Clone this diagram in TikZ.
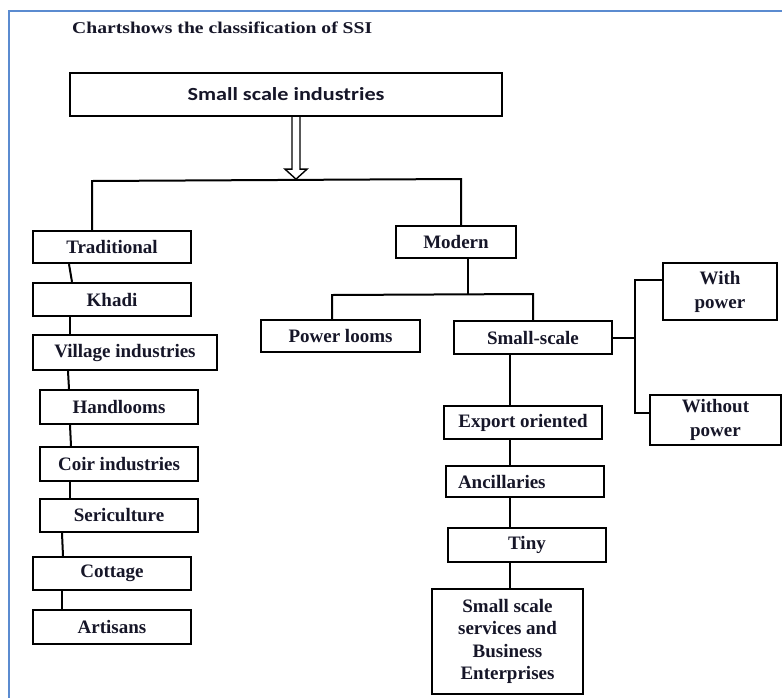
\documentclass[tikz,border=0pt]{standalone}
\usepackage{fontspec}
\setmainfont{Liberation Serif}
\newfontfamily\calib{Carlito}
\usetikzlibrary{calc}
\definecolor{frameblue}{RGB}{91,139,208}
\definecolor{inkc}{RGB}{22,22,40}
\begin{document}
\begin{tikzpicture}[x=1pt,y=-1pt,
  box/.style={draw=black, line width=2.3pt, inner sep=0pt, align=center,
    font=\fontsize{19}{24}\selectfont\bfseries, text=inkc},
  conn/.style={draw=black, line width=2pt},
  titlefont/.style={font=\fontsize{16.5}{20}\selectfont\bfseries, text=inkc}
]
\useasboundingbox (0,0) rectangle (782,697);
\draw[frameblue, line width=2pt] (9,720) -- (9,11) -- (800,11);

% title
\node[titlefont, anchor=base west, inner sep=0pt] (title) at (72,33) {\scalebox{1.19}[1]{Chartshows the classification of SSI}};

% top box
\node[box, minimum width=432, minimum height=43, font={\calib\bfseries\fontsize{18.5}{22}\selectfont}] (ssi) at (286,94.5) {\scalebox{1.2}[1]{Small scale industries}};

% left column
\node[box, minimum width=158, minimum height=32] (trad) at (112,247) {Traditional};
\node[box, minimum width=158, minimum height=33] (khadi) at (112,299.5) {Khadi};
\node[box, minimum width=184, minimum height=35] (village) at (125,352.5) {Village industries};
\node[box, minimum width=158, minimum height=34] (hand) at (119,407) {Handlooms};
\node[box, minimum width=158, minimum height=34] (coir) at (119,464) {Coir industries};
\node[box, minimum width=158, minimum height=33] (seri) at (119,515.5) {Sericulture};
\node[box, minimum width=158, minimum height=33] (cottage) at (112,573.5) {Cottage};
\node[box, minimum width=158, minimum height=34] (artisans) at (112,627) {Artisans};

% modern side
\node[box, minimum width=120, minimum height=32] (modern) at (456,242) {Modern};
\node[box, minimum width=159, minimum height=32] (plooms) at (340.5,336) {Power looms};
\node[box, minimum width=158, minimum height=33] (small) at (533,337.5) {Small-scale};
\node[box, minimum width=114, minimum height=57] (withp) at (720,291.5) {With\\power};
\node[box, minimum width=131, minimum height=50] (withoutp) at (715.5,420) {Without\\power};
\node[box, minimum width=158, minimum height=33] (export) at (523,422.5) {Export oriented};
\node[box, minimum width=158, minimum height=31, text width=134, align=left, inner xsep=12pt] (anc) at (525,481.5) {Ancillaries};
\node[box, minimum width=158, minimum height=34] (tiny) at (527,545) {Tiny};
\node[box, minimum width=151, minimum height=105, font=\fontsize{19}{22.5}\selectfont\bfseries] (sss) at (507.5,641.5) {Small scale\\services and\\Business\\Enterprises};

% double arrow
\coordinate (as) at ($(ssi.south)+(10,0)$);
\draw[line width=1.4pt, fill=white] (as) ++(-4,0) -- ++(0,52) -- ++(-7,0) -- ++(11,10) -- ++(11,-10) -- ++(-7,0) -- ++(0,-52);

% main branch
\coordinate (jL) at (92,181);
\coordinate (jR) at (461,179);
\draw[conn] (trad.north -| jL) -- (jL) -- (jR) -- (jR |- modern.north);

% left chain
\draw[conn] ($(trad.south)+(-43,0)$) -- ($(khadi.north)+(-40,0)$);
\draw[conn] ($(khadi.south)+(-42,0)$) -- ($(village.north)+(-55,0)$);
\draw[conn] ($(village.south)+(-57,0)$) -- ($(hand.north)+(-50,0)$);
\draw[conn] ($(hand.south)+(-49,0)$) -- ($(coir.north)+(-48,0)$);
\draw[conn] ($(coir.south)+(-49,0)$) -- ($(seri.north)+(-49,0)$);
\draw[conn] ($(seri.south)+(-57,0)$) -- ($(cottage.north)+(-49,0)$);
\draw[conn] ($(cottage.south)+(-50,0)$) -- ($(artisans.north)+(-50,0)$);

% modern branch
\coordinate (jM) at (468,294);
\coordinate (jP) at (332,295);
\coordinate (jS) at (533,294);
\draw[conn] (modern.south -| jM) -- (jM);
\draw[conn] (plooms.north -| jP) -- (jP) -- (jS) -- (jS |- small.north);

% power branch
\coordinate (jW) at (635,0);
\coordinate (wA) at ($(withp.west)+(0,-12)$);
\coordinate (wB) at ($(withoutp.west)+(0,-7)$);
\draw[conn] (small.east) -- (small.east -| jW);
\draw[conn] (wA) -| (jW |- wB) -- (wB);

% right chain
\coordinate (rx) at (510,0);
\draw[conn] (small.south -| rx) -- (export.north -| rx);
\draw[conn] (export.south -| rx) -- (anc.north -| rx);
\draw[conn] (anc.south -| rx) -- (tiny.north -| rx);
\draw[conn] (tiny.south -| rx) -- (sss.north -| rx);
\end{tikzpicture}
\end{document}
